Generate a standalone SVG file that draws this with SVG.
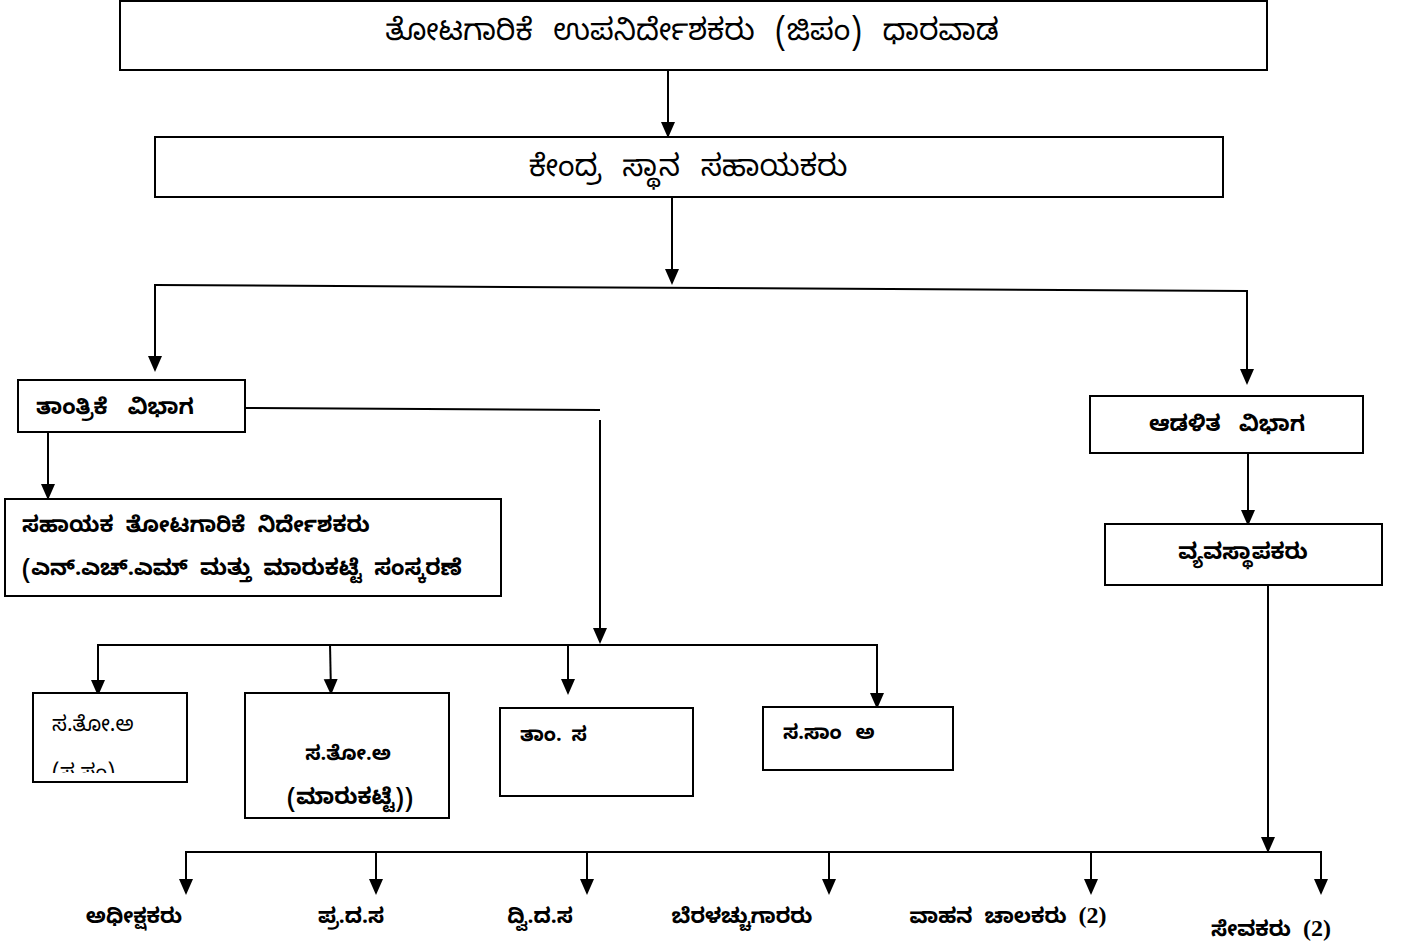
<svg xmlns="http://www.w3.org/2000/svg" width="1406" height="949" viewBox="0 0 1406 949">
<style>
.box{fill:#fff;stroke:#000;stroke-width:2}
.ln{fill:none;stroke:#000;stroke-width:2}
.ar{fill:none;stroke:#000;stroke-width:2;marker-end:url(#ah)}
text{font-family:"Noto Sans Kannada","Lohit Kannada","Noto Sans","DejaVu Sans",sans-serif;fill:#000}
.big{font-size:30px;word-spacing:12px}
.b{font-size:22px;font-weight:bold;word-spacing:6px}
.s{font-size:20px;font-weight:bold;word-spacing:4px}
.lab{font-size:21px;font-weight:bold;word-spacing:6px}
.num{font-family:"Liberation Serif",serif;font-weight:bold;font-size:24px}
</style>
<defs>
<marker id="ah" markerUnits="userSpaceOnUse" markerWidth="16" markerHeight="18" refX="14" refY="7" orient="auto" viewBox="0 0 16 14">
<path d="M0,0 L16,7 L0,14 Z" fill="#000"/>
</marker>
<clipPath id="c1"><rect x="34" y="694" width="152" height="79"/></clipPath>
</defs>
<g id="connectors">
<line class="ar" x1="668" y1="70" x2="668" y2="136"/>
<line class="ar" x1="672" y1="197" x2="672" y2="283"/>
<line class="ln" x1="155" y1="285" x2="1247" y2="291"/>
<line class="ar" x1="155" y1="284" x2="155" y2="370"/>
<line class="ar" x1="1247" y1="290" x2="1247" y2="383"/>
<line class="ln" x1="245" y1="408" x2="600" y2="410"/>
<line class="ar" x1="600" y1="420" x2="600" y2="642"/>
<line class="ar" x1="48" y1="432" x2="48" y2="498"/>
<line class="ar" x1="1248" y1="453" x2="1248" y2="524"/>
<line class="ln" x1="97" y1="645" x2="877" y2="645"/>
<line class="ar" x1="98" y1="644" x2="98" y2="694"/>
<line class="ar" x1="330" y1="644" x2="331" y2="693"/>
<line class="ar" x1="568" y1="645" x2="568" y2="693"/>
<line class="ar" x1="877" y1="644" x2="877" y2="707"/>
<line class="ar" x1="1268" y1="585" x2="1268" y2="851"/>
<line class="ln" x1="185" y1="852" x2="1322" y2="852"/>
<line class="ar" x1="186" y1="851" x2="186" y2="893"/>
<line class="ar" x1="376" y1="851" x2="376" y2="893"/>
<line class="ar" x1="587" y1="851" x2="587" y2="893"/>
<line class="ar" x1="829" y1="851" x2="829" y2="893"/>
<line class="ar" x1="1091" y1="851" x2="1091" y2="893"/>
<line class="ar" x1="1321" y1="851" x2="1321" y2="893"/>
</g>
<g id="n1"><rect class="box" x="120" y="1" width="1147" height="69"/><text class="big" x="692" y="40" text-anchor="middle">ತೋಟಗಾರಿಕೆ ಉಪನಿರ್ದೇಶಕರು (ಜಿಪಂ) ಧಾರವಾಡ</text></g>
<g id="n2"><rect class="box" x="155" y="137" width="1068" height="60"/><text class="big" x="688" y="176" text-anchor="middle">ಕೇಂದ್ರ ಸ್ಥಾನ ಸಹಾಯಕರು</text></g>
<g id="n3"><rect class="box" x="18" y="380" width="227" height="52"/><text class="b" x="36" y="414" style="word-spacing:14px">ತಾಂತ್ರಿಕೆ ವಿಭಾಗ</text></g>
<g id="n4"><rect class="box" x="5" y="499" width="496" height="97"/><text class="b" x="22" y="532">ಸಹಾಯಕ ತೋಟಗಾರಿಕೆ ನಿರ್ದೇಶಕರು</text><text class="b" x="22" y="575">(ಎನ್.ಎಚ್.ಎಮ್ ಮತ್ತು ಮಾರುಕಟ್ಟೆ ಸಂಸ್ಕರಣೆ</text></g>
<g id="n5"><rect class="box" x="1090" y="396" width="273" height="57"/><text class="b" x="1227" y="431" text-anchor="middle" style="word-spacing:12px">ಆಡಳಿತ ವಿಭಾಗ</text></g>
<g id="n6"><rect class="box" x="1105" y="524" width="277" height="61"/><text class="b" x="1243" y="559" text-anchor="middle">ವ್ಯವಸ್ಥಾಪಕರು</text></g>
<g id="n7"><rect class="box" x="33" y="693" width="154" height="89"/><text style="font-size:21px" x="52" y="731">ಸ.ತೋ.ಅ</text><text style="font-size:21px" x="52" y="779" clip-path="url(#c1)">(ಸ.ಸಂ)</text></g>
<g id="n8"><rect class="box" x="245" y="693" width="204" height="125"/><text class="s" x="348" y="760" text-anchor="middle">ಸ.ತೋ.ಅ</text><text class="b" x="350" y="804" text-anchor="middle">(ಮಾರುಕಟ್ಟೆ))</text></g>
<g id="n9"><rect class="box" x="500" y="708" width="193" height="88"/><text class="s" x="520" y="741">ತಾಂ. ಸ</text></g>
<g id="n10"><rect class="box" x="763" y="707" width="190" height="63"/><text class="s" x="783" y="739" style="word-spacing:8px">ಸ.ಸಾಂ ಅ</text></g>
<g id="l1"><text class="lab" x="134" y="923" text-anchor="middle">ಅಧೀಕ್ಷಕರು</text></g>
<g id="l2"><text class="lab" x="351" y="923" text-anchor="middle">ಪ್ರ.ದ.ಸ</text></g>
<g id="l3"><text class="lab" x="540" y="923" text-anchor="middle">ದ್ವಿ.ದ.ಸ</text></g>
<g id="l4"><text class="lab" x="742" y="923" text-anchor="middle">ಬೆರಳಚ್ಚುಗಾರರು</text></g>
<g id="l5"><text class="lab" x="1008" y="923" text-anchor="middle">ವಾಹನ ಚಾಲಕರು <tspan class="num">(2)</tspan></text></g>
<g id="l6"><text class="lab" x="1271" y="936" text-anchor="middle">ಸೇವಕರು <tspan class="num">(2)</tspan></text></g>
</svg>
